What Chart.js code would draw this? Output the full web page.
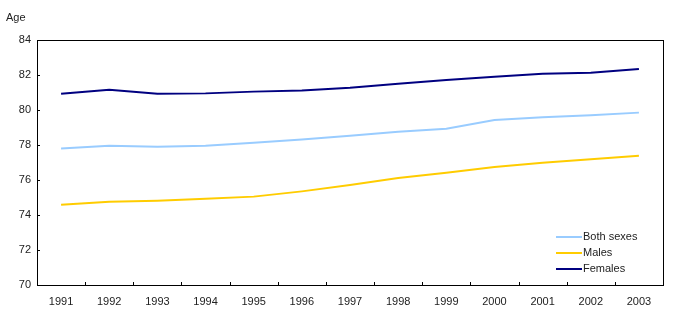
<!DOCTYPE html>
<html>
<head>
<meta charset="utf-8">
<script src="https://cdn.jsdelivr.net/npm/chart.js@4/dist/chart.umd.min.js"></script>
<style>
html,body{margin:0;padding:0;background:#fff;}
#wrap{width:678px;height:324px;position:relative;}
</style>
</head>
<body>
<div id="wrap"><canvas id="c" width="678" height="324"></canvas></div>
<script>
const years = ["1991","1992","1993","1994","1995","1996","1997","1998","1999","2000","2001","2002","2003"];
const bothSexes = [77.8,77.96,77.9,77.96,78.13,78.32,78.53,78.76,78.93,79.43,79.58,79.7,79.85];
const males = [74.59,74.76,74.82,74.93,75.05,75.35,75.71,76.11,76.42,76.74,76.99,77.18,77.39];
const females = [80.93,81.16,80.93,80.95,81.05,81.12,81.27,81.5,81.71,81.9,82.07,82.13,82.34];
const yMin = 70, yMax = 84, yStep = 2;
const yAxisTitle = "Age";
const seriesNames = ["Both sexes","Males","Females"];
const seriesColors = ["#99ccff","#ffcc00","#000080"];

const FONT = "'Liberation Sans', Arial, sans-serif";

const framePlugin = {
  id: 'frame',
  afterDraw(chart) {
    const ctx = chart.ctx;
    const a = chart.chartArea;
    const xs = chart.scales.x, ys = chart.scales.y;
    ctx.save();
    ctx.strokeStyle = '#000';
    ctx.lineWidth = 1;
    // frame
    ctx.strokeRect(Math.round(a.left) + 0.5, Math.round(a.top) + 0.5,
      Math.round(a.right - a.left), Math.round(a.bottom - a.top));
    // y ticks inward
    ctx.beginPath();
    ys.ticks.forEach(t => {
      const y = Math.round(ys.getPixelForValue(t.value)) + 0.5;
      ctx.moveTo(a.left, y); ctx.lineTo(a.left + 3, y);
    });
    // x ticks at boundaries (inward)
    for (let i = 1; i < years.length; i++) {
      const x = Math.round((xs.getPixelForTick(i - 1) + xs.getPixelForTick(i)) / 2) + 0.5;
      ctx.moveTo(x, a.bottom); ctx.lineTo(x, a.bottom - 3);
    }
    ctx.stroke();
    // axis title
    ctx.fillStyle = '#222';
    ctx.font = '11px ' + FONT;
    ctx.textAlign = 'left';
    ctx.textBaseline = 'middle';
    ctx.fillText(yAxisTitle, 6, 18);
    // legend
    const lx = 556, ly = 237, gap = 16;
    chart.data.datasets.forEach((ds, i) => {
      const y = ly + i * gap;
      ctx.strokeStyle = ds.borderColor;
      ctx.lineWidth = 2;
      ctx.beginPath();
      ctx.moveTo(lx, y); ctx.lineTo(lx + 26, y);
      ctx.stroke();
      ctx.fillStyle = '#222';
      ctx.fillText(ds.label, lx + 27, y);
    });
    ctx.restore();
  }
};

new Chart(document.getElementById('c'), {
  type: 'line',
  data: {
    labels: years,
    datasets: [
      { label: seriesNames[0], data: bothSexes, borderColor: seriesColors[0] },
      { label: seriesNames[1], data: males, borderColor: seriesColors[1] },
      { label: seriesNames[2], data: females, borderColor: seriesColors[2] }
    ].map(d => Object.assign(d, { borderWidth: 2, pointRadius: 0, tension: 0, fill: false }))
  },
  options: {
    responsive: false,
    animation: false,
    layout: { padding: { top: 40, right: 15, bottom: 0, left: 0 } },
    plugins: { legend: { display: false }, tooltip: { enabled: false } },
    scales: {
      x: {
        offset: true,
        grid: { display: false, drawTicks: false },
        border: { display: false },
        ticks: { color: '#222', font: { family: FONT, size: 11 }, padding: 10, maxRotation: 0, autoSkip: false },
        afterFit(s) { s.height = 39; }
      },
      y: {
        min: yMin, max: yMax,
        grid: { display: false, drawTicks: false },
        border: { display: false },
        ticks: { stepSize: yStep, color: '#222', font: { family: FONT, size: 11 }, padding: 6 },
        afterFit(s) { s.width = 37; }
      }
    }
  },
  plugins: [framePlugin]
});
</script>
</body>
</html>
